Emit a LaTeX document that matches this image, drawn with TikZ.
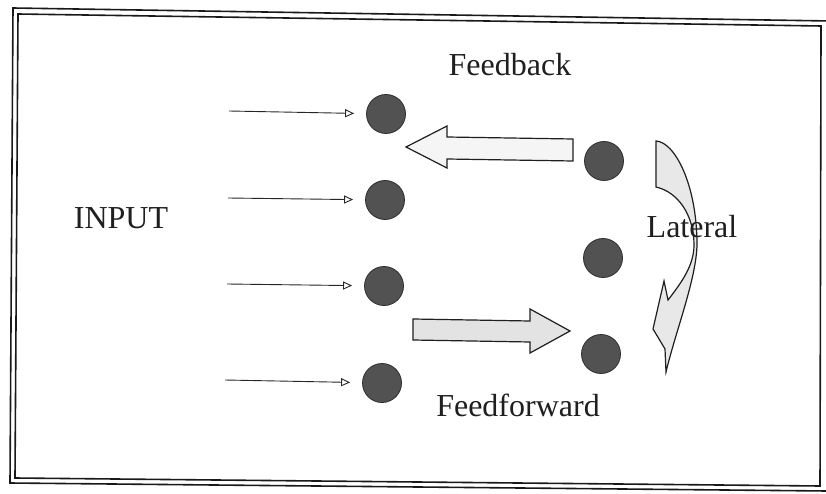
\documentclass[tikz,border=0pt]{standalone}
\usepackage{fontspec}
\setmainfont{Liberation Serif}
\usetikzlibrary{arrows.meta}
\begin{document}
\begin{tikzpicture}[x=1pt,y=-1pt,
  neuron/.style={circle,minimum size=39pt,inner sep=0pt,fill=black!68,draw=black!82,line width=0.8pt},
  inarrow/.style={line width=0.9pt,draw=black!85,-{Triangle[open,length=9pt,width=8pt]},shorten >=12pt},
  blockarrow/.style={draw=black!88,line width=1.2pt,line join=miter},
  frame/.style={draw=black!90,line width=1.6pt},
  lbl/.style={font=\fontsize{32}{38}\selectfont,inner sep=0pt,anchor=base,text=black!88}]
\useasboundingbox (0,0) rectangle (826,494);
\fill[white] (0,0) rectangle (826,494);
% double frame
\draw[frame] (13,8) -- (830,21) -- (827,491) -- (10,483) -- cycle;
\draw[frame] (18,14) -- (821,26) -- (820,486) -- (15,478) -- cycle;
% neurons
\node[neuron] (l1) at (386,114) {};
\node[neuron] (l2) at (385,200) {};
\node[neuron] (l3) at (384,286) {};
\node[neuron] (l4) at (382,383) {};
\node[neuron] (r1) at (604,161) {};
\node[neuron] (r2) at (603,258) {};
\node[neuron] (r3) at (601,354) {};
% input arrows
\coordinate (s1) at (229,111);
\coordinate (s2) at (228,198);
\coordinate (s3) at (227,284);
\coordinate (s4) at (225,380);
\draw[inarrow] (s1) -- (l1);
\draw[inarrow] (s2) -- (l2);
\draw[inarrow] (s3) -- (l3);
\draw[inarrow] (s4) -- (l4);
% feedback block arrow
\draw[blockarrow,fill=gray!8] (573,139) -- (447,137) -- (447,126) -- (406,147) -- (447,168) -- (447,159) -- (573,161) -- cycle;
% feedforward block arrow
\draw[blockarrow,fill=gray!22] (413,319) -- (530,321) -- (530,309) -- (570,331) -- (530,353) -- (530,342) -- (413,340) -- cycle;
% lateral curved arrow
\draw[blockarrow,fill=gray!18] (656,141) .. controls (675,142) and (697,185) .. (697,245)
  .. controls (696,280) and (676,330) .. (666,372)
  -- (665,349) -- (653,329) -- (664,281) -- (668,300)
  .. controls (682,282) and (694,265) .. (694,245)
  .. controls (694,215) and (678,192) .. (656,187) -- cycle;
% labels
\node[lbl] (fb) at (510,76) {Feedback};
\node[lbl] (inp) at (121,229) {INPUT};
\node[lbl] (lat) at (692,237) {Lateral};
\node[lbl] (ff) at (518,416) {Feedforward};
\end{tikzpicture}
\end{document}
